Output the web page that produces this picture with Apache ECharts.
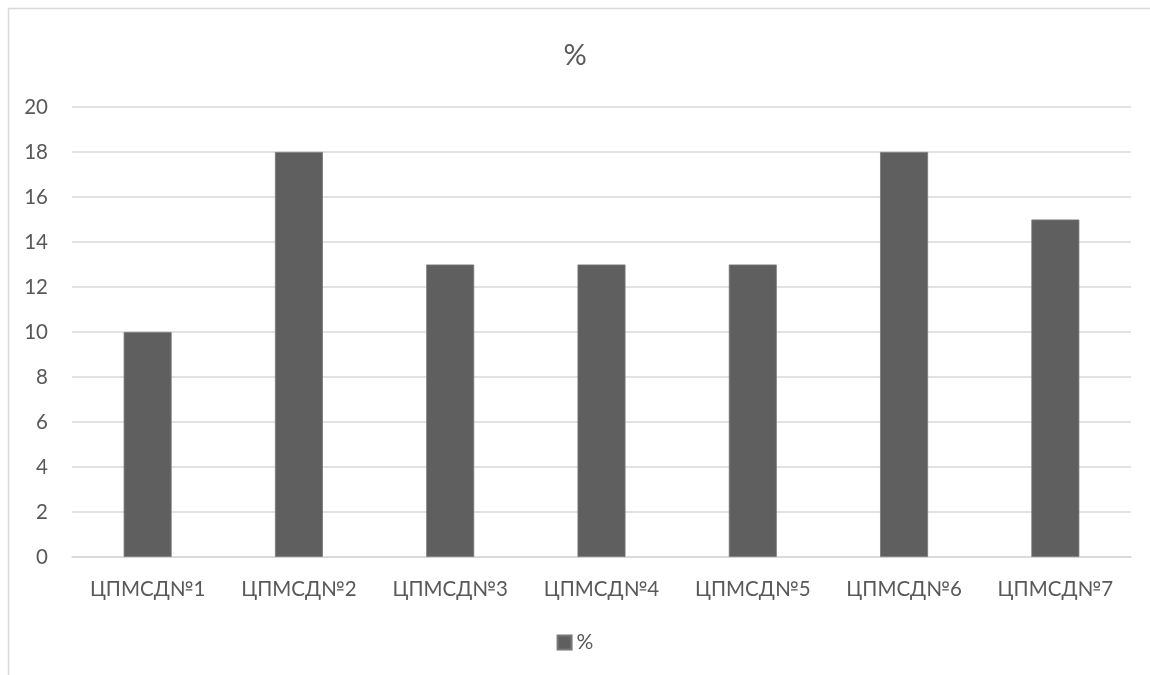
<!DOCTYPE html>
<html>
<head>
<meta charset="utf-8">
<script src="https://cdn.jsdelivr.net/npm/echarts@6/dist/echarts.min.js"></script>
<style>
  html, body { margin: 0; padding: 0; background: #fff; }
  #chart { width: 1150px; height: 675px; }
</style>
</head>
<body>
<div id="chart"></div>
<script>
// Centres and their share, %
const categories = ['ЦПМСД№1', 'ЦПМСД№2', 'ЦПМСД№3', 'ЦПМСД№4', 'ЦПМСД№5', 'ЦПМСД№6', 'ЦПМСД№7'];
const percentValues = [10, 18, 13, 13, 13, 18, 15];
const seriesName = '%';
const titleText = '%';

const FONT = 'Lato, "Liberation Sans", sans-serif';
const TEXT = '#595959';
const GRID = '#d9d9d9';

const chart = echarts.init(document.getElementById('chart'), null, { renderer: 'canvas' });
chart.setOption({
  backgroundColor: '#ffffff',
  animation: false,
  graphic: [{
    type: 'rect',
    shape: { x: 8.5, y: 8.5, width: 1200, height: 700 },
    style: { fill: 'none', stroke: GRID, lineWidth: 1.5 },
    silent: true,
    z: -1
  }],
  title: {
    text: titleText,
    left: 'center',
    top: 36,
    textStyle: { fontFamily: FONT, fontSize: 29, fontWeight: 'normal', color: TEXT }
  },
  legend: {
    bottom: 17,
    left: 'center',
    itemWidth: 14,
    itemHeight: 14,
    itemGap: 8,
    icon: 'rect',
    textStyle: { fontFamily: FONT, fontSize: 21, color: TEXT },
    data: [seriesName]
  },
  grid: { left: 72, right: 19, top: 107, bottom: 118, containLabel: false },
  xAxis: {
    type: 'category',
    data: categories,
    axisLine: { lineStyle: { color: GRID, width: 1.5 } },
    axisTick: { show: false },
    axisLabel: { fontFamily: FONT, fontSize: 20.5, color: TEXT, margin: 22 }
  },
  yAxis: {
    type: 'value',
    min: 0,
    max: 20,
    interval: 2,
    axisLine: { show: false },
    axisTick: { show: false },
    splitLine: { lineStyle: { color: GRID, width: 1.5 } },
    axisLabel: { fontFamily: FONT, fontSize: 20.5, color: TEXT, margin: 24 }
  },
  series: [{
    name: seriesName,
    type: 'bar',
    data: percentValues,
    barWidth: '31.7%',
    itemStyle: { color: '#5f5f5f', borderColor: '#777777', borderWidth: 0.8 }
  }]
});
</script>
</body>
</html>
